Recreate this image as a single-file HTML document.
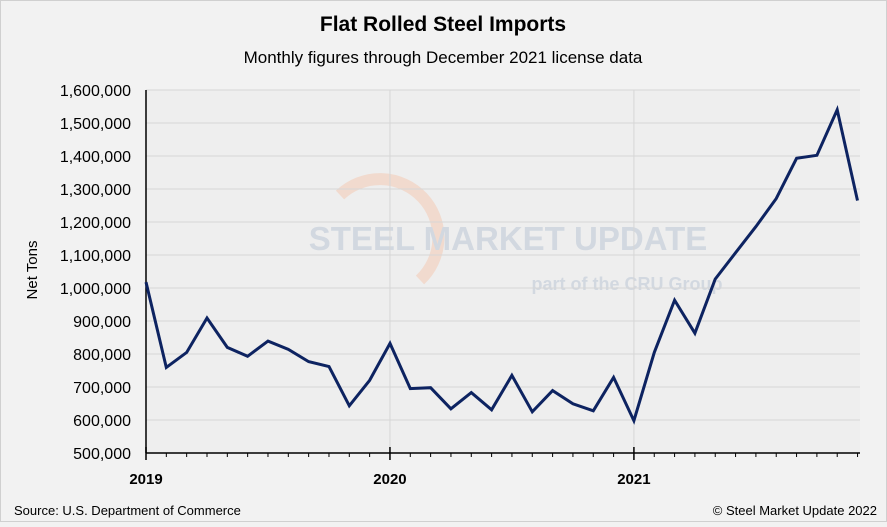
<!DOCTYPE html>
<html><head><meta charset="utf-8"><style>
body{margin:0;width:887px;height:522px;background:#f2f2f2;font-family:"Liberation Sans",sans-serif;overflow:hidden}
svg text{font-family:"Liberation Sans",sans-serif}
</style></head><body>
<svg id="c" width="887" height="522">
<rect x="0.5" y="0.5" width="886" height="521" fill="#f2f2f2" stroke="#d0d0d0"/>
<text x="443" y="31" text-anchor="middle" font-size="21" font-weight="bold" fill="#000">Flat Rolled Steel Imports</text>
<text x="443" y="63" text-anchor="middle" font-size="17" fill="#000">Monthly figures through December 2021 license data</text>
<rect x="146" y="90" width="714" height="363" fill="#eeeeee"/>
<g opacity="0.5">
<path d="M340,195 A55,55 0 1,1 420,280" fill="none" stroke="#f4c8b0" stroke-width="12"/>
<text x="508" y="250" text-anchor="middle" font-size="33" font-weight="bold" fill="#b8c4d4">STEEL MARKET UPDATE</text>
<text x="627" y="290" text-anchor="middle" font-size="18" font-weight="bold" fill="#b8c4d4">part of the CRU Group</text>
</g>
<g id="grid"></g><g id="axes"></g>
<text transform="translate(37,270) rotate(-90)" text-anchor="middle" font-size="15" fill="#000">Net Tons</text>
<text x="14" y="515" font-size="13" fill="#000">Source: U.S. Department of Commerce</text>
<text x="877" y="515" text-anchor="end" font-size="13" fill="#000">© Steel Market Update 2022</text>
<path id="line" fill="none" stroke="#0d2361" stroke-width="3" stroke-linejoin="miter"/>
</svg>
<script>
const yTicks=[500000,600000,700000,800000,900000,1000000,1100000,1200000,1300000,1400000,1500000,1600000];
const years=["2019","2020","2021"];
const values=[1018000,759000,805000,909000,820000,793000,839000,814000,777000,762000,643000,720000,
832000,695000,698000,634000,683000,631000,735000,625000,689000,649000,628000,729000,
598000,805000,963000,863000,1027000,1107000,1186000,1271000,1393000,1402000,1540000,1265000];
const NS="http://www.w3.org/2000/svg";
const x0=146,mw=20.33,yB=453,yT=90,vmin=500000,vmax=1600000;
const X=i=>x0+i*mw, Y=v=>yB-(v-vmin)/(vmax-vmin)*(yB-yT);
const g=document.getElementById('grid'),a=document.getElementById('axes');
function mk(tag,at,par){const e=document.createElementNS(NS,tag);for(const k in at)e.setAttribute(k,at[k]);par.appendChild(e);return e;}
yTicks.forEach(v=>{
 if(v>vmin){const l=mk('line',{x1:x0,x2:860,y1:Y(v),y2:Y(v),stroke:'#d6d6d6'},g);
 
 }
 const t=mk('text',{x:131,y:Y(v)+6,'text-anchor':'end','font-size':'16',fill:'#000'},a);
 t.textContent=v.toLocaleString('en-US');
 
 
});
years.forEach((yr,k)=>{
 const xx=X(k*12);
 if(k>0){const l=mk('line',{x1:xx,x2:xx,y1:yT,y2:yB,stroke:'#d6d6d6'},g);
 
 }
 const tk=mk('line',{x1:xx,x2:xx,y1:yB-6,y2:yB+7,stroke:'#000','stroke-width':1.5},a);
 
 
 const t=mk('text',{x:xx,y:484,'text-anchor':'middle','font-size':'15','font-weight':'bold',fill:'#000'},a);
 t.textContent=yr;
 
 
});
for(let i=1;i<values.length;i++){if(i%12==0)continue;
 const tk=mk('line',{x1:X(i),x2:X(i),y1:yB,y2:yB+4,stroke:'#000'},a);
 
 }
const ax=mk('line',{x1:x0,x2:860,y1:yB,y2:yB,stroke:'#000','stroke-width':1.5},a);


const ay=mk('line',{x1:x0,x2:x0,y1:yT,y2:yB,stroke:'#000','stroke-width':1.5},a);


document.getElementById('line').setAttribute('d',values.map((v,i)=>(i?'L':'M')+X(i).toFixed(1)+','+Y(v).toFixed(1)).join(''));
</script>
</body></html>
